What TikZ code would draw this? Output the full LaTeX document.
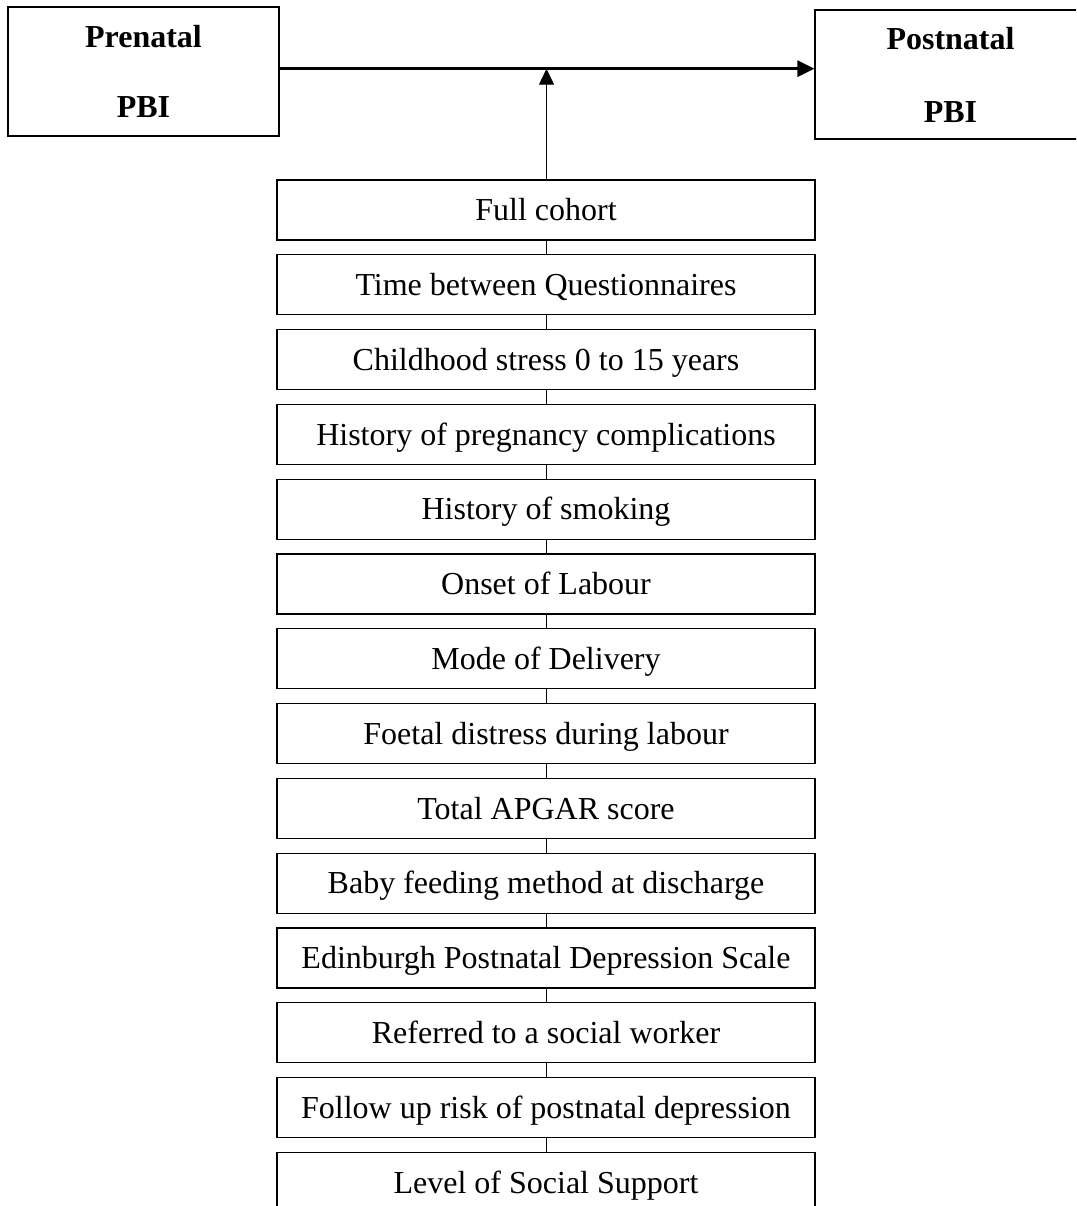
\documentclass[tikz,border=0pt]{standalone}
\usepackage{fontspec}
\setmainfont{Liberation Serif}
\usetikzlibrary{arrows.meta}
\begin{document}
\begin{tikzpicture}[x=1pt,y=-1pt,
  chainbox/.style={draw, line width=1.2pt, minimum width=538pt, minimum height=60pt, inner sep=0pt, text height=21.2pt, text depth=0pt, font=\fontsize{32}{36}\selectfont},
  pbibox/.style={draw, line width=1.2pt, minimum width=271pt, minimum height=129pt, inner sep=0pt, align=center, font=\fontsize{32}{#1}\selectfont\bfseries},
  link/.style={line width=1pt}]
\useasboundingbox (0,0) rectangle (1076,1206);
\clip (0,0) rectangle (1076,1206);
\node[pbibox=70] (pre) at (143.5,71.5) {Prenatal\\PBI};
\node[pbibox=73] (post) at (950.5,74.5) {Postnatal\\PBI};
\foreach \t [count=\i] in {Full cohort,Time between Questionnaires,Childhood stress 0 to 15 years,History of pregnancy complications,History of smoking,Onset of Labour,Mode of Delivery,Foetal distress during labour,Total APGAR score,Baby feeding method at discharge,Edinburgh Postnatal Depression Scale,Referred to a social worker,Follow up risk of postnatal depression,Level of Social Support}
  \node[chainbox] (c\i) at (546,{210+74.8*(\i-1)}) {\t};
\foreach \i [evaluate=\i as \j using int(\i+1)] in {1,...,13}
  \draw[link] (c\i.south) -- (c\j.north);
\coordinate (m) at (546.5,68.7);
\draw[line width=2.7pt, -{Triangle[length=17pt,width=16pt]}] (pre.east |- m) -- (post.west |- m);
\draw[line width=1.2pt, -{Triangle[length=16pt,width=15pt]}] (c1.north -| m) -- (m);
\end{tikzpicture}
\end{document}
